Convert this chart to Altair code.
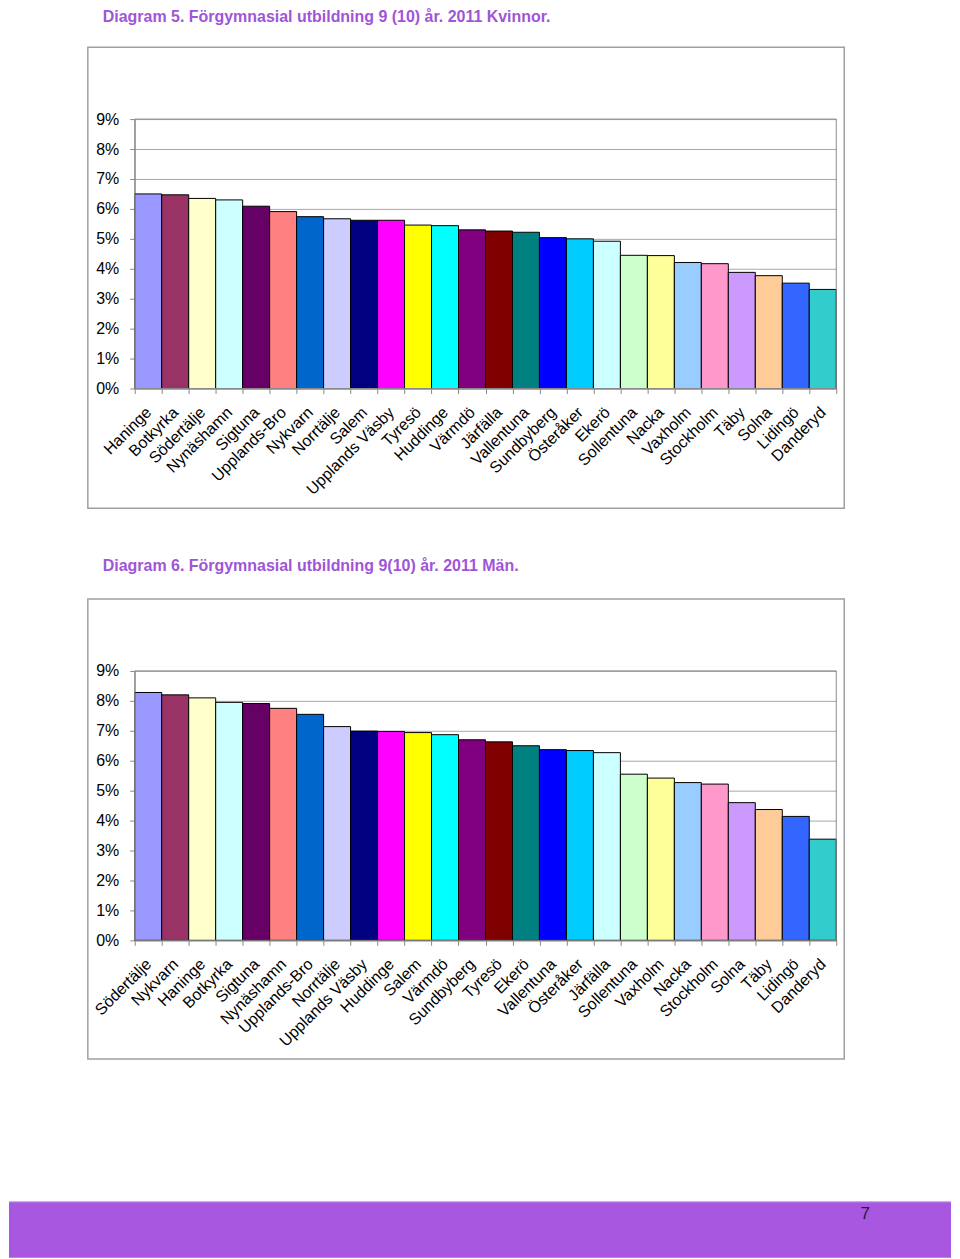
import altair as alt
import pandas as pd

# ---------------- data ----------------
cats1 = ["Haninge", "Botkyrka", "Södertälje", "Nynäshamn", "Sigtuna", "Upplands-Bro",
         "Nykvarn", "Norrtälje", "Salem", "Upplands Väsby", "Tyresö", "Huddinge",
         "Värmdö", "Järfälla", "Vallentuna", "Sundbyberg", "Österåker", "Ekerö",
         "Sollentuna", "Nacka", "Vaxholm", "Stockholm", "Täby", "Solna", "Lidingö", "Danderyd"]
vals1 = [6.50, 6.47, 6.35, 6.30, 6.09, 5.91, 5.74, 5.67, 5.62, 5.62, 5.46, 5.44,
         5.30, 5.26, 5.22, 5.04, 5.00, 4.92, 4.45, 4.44, 4.21, 4.17, 3.88, 3.77, 3.52, 3.31]

cats2 = ["Södertälje", "Nykvarn", "Haninge", "Botkyrka", "Sigtuna", "Nynäshamn",
         "Upplands-Bro", "Norrtälje", "Upplands Väsby", "Huddinge", "Salem", "Värmdö",
         "Sundbyberg", "Tyresö", "Ekerö", "Vallentuna", "Österåker", "Järfälla",
         "Sollentuna", "Vaxholm", "Nacka", "Stockholm", "Solna", "Täby", "Lidingö", "Danderyd"]
vals2 = [8.28, 8.20, 8.10, 7.95, 7.91, 7.75, 7.55, 7.14, 6.99, 6.98, 6.94, 6.87,
         6.70, 6.63, 6.50, 6.37, 6.34, 6.27, 5.55, 5.42, 5.27, 5.22, 4.60, 4.37, 4.14, 3.38]

bar_colors = ["#9999FF", "#993366", "#FFFFCC", "#CCFFFF", "#660066", "#FF8080", "#0066CC",
              "#CCCCFF", "#000080", "#FF00FF", "#FFFF00", "#00FFFF", "#800080", "#800000",
              "#008080", "#0000FF", "#00CCFF", "#CCFFFF", "#CCFFCC", "#FFFF99", "#99CCFF",
              "#FF99CC", "#CC99FF", "#FFCC99", "#3366FF", "#33CCCC"]

y_ticks = [0, 1, 2, 3, 4, 5, 6, 7, 8, 9]

title1 = "Diagram 5. Förgymnasial utbildning 9 (10) år. 2011 Kvinnor."
title2 = "Diagram 6. Förgymnasial utbildning 9(10) år. 2011 Män."
page_no = "7"

df1 = pd.DataFrame({"kommun1": cats1, "andel1": vals1, "farg": bar_colors})
df2 = pd.DataFrame({"kommun2": cats2, "andel2": vals2, "farg": bar_colors})
one = pd.DataFrame({"d": [0]})

FONT = "Liberation Sans"
PURPLE = "#9F55D8"
FOOT = "#A858E0"
W, H = 703, 270
Y2_TOP, Y2_BOT = 553, 823


def x_axis(offset=0):
    return alt.Axis(title=None, orient="bottom", offset=offset, labelAngle=-45,
                    labelAlign="right", labelBaseline="middle", labelPadding=16,
                    labelFont=FONT, labelFontSize=16, labelColor="black",
                    labelOverlap=False, labelLimit=300, tickBand="extent",
                    tickSize=5, tickColor="#888888", domainColor="#888888",
                    grid=False)


def y_axis():
    return alt.Axis(title=None, orient="left", values=y_ticks,
                    labelExpr="datum.value + '%'", labelFont=FONT, labelFontSize=16,
                    labelColor="black", labelPadding=11, tickSize=5,
                    tickColor="#888888", domainColor="#888888",
                    grid=True, gridColor="#A8A8A8", gridWidth=1)


# transparent page frame (fixes the origin of the plot)
frame = alt.Chart(one).mark_rect(fill="white", fillOpacity=0).encode(
    x=alt.value(-126), x2=alt.value(818), y=alt.value(-110), y2=alt.value(1141))

box1 = alt.Chart(one).mark_rect(fill=None, stroke="#A0A0A0", strokeWidth=1.5).encode(
    x=alt.value(-47), x2=alt.value(711), y=alt.value(-72), y2=alt.value(390))
box2 = alt.Chart(one).mark_rect(fill=None, stroke="#A0A0A0", strokeWidth=1.5).encode(
    x=alt.value(-47), x2=alt.value(711), y=alt.value(481), y2=alt.value(942))

plot1 = alt.Chart(one).mark_rect(fill=None, stroke="#8C8C8C", strokeWidth=1).encode(
    x=alt.value(0), x2=alt.value(W), y=alt.value(0), y2=alt.value(H))
plot2 = alt.Chart(one).mark_rect(fill=None, stroke="#8C8C8C", strokeWidth=1).encode(
    x=alt.value(0), x2=alt.value(W), y=alt.value(Y2_TOP), y2=alt.value(Y2_BOT))

t1 = alt.Chart(one).mark_text(align="left", baseline="top", font=FONT,
                              fontSize=16, fontWeight="bold", color=PURPLE).encode(
    x=alt.value(-32), y=alt.value(-110), text=alt.value(title1))
t2 = alt.Chart(one).mark_text(align="left", baseline="alphabetic", font=FONT,
                              fontSize=16, fontWeight="bold", color=PURPLE).encode(
    x=alt.value(-32), y=alt.value(453), text=alt.value(title2))

bars1 = alt.Chart(df1).mark_bar(stroke="black", strokeWidth=1).encode(
    x=alt.X("kommun1:N", sort=cats1,
            scale=alt.Scale(paddingInner=0, paddingOuter=0), axis=x_axis()),
    y=alt.Y("andel1:Q", scale=alt.Scale(domain=[0, 9], nice=False), axis=y_axis()),
    color=alt.Color("farg:N", scale=None),
)

bars2 = alt.Chart(df2).mark_bar(stroke="black", strokeWidth=1).encode(
    x=alt.X("kommun2:N", sort=cats2,
            scale=alt.Scale(paddingInner=0, paddingOuter=0),
            axis=x_axis(offset=Y2_BOT - H)),
    y=alt.Y("andel2:Q",
            scale=alt.Scale(domain=[0, 9], range=[Y2_BOT, Y2_TOP], nice=False),
            axis=y_axis()),
    color=alt.Color("farg:N", scale=None),
)

footer = alt.Chart(one).mark_rect(fill=FOOT).encode(
    x=alt.value(-126), x2=alt.value(818), y=alt.value(1085), y2=alt.value(1141))
footer_line = alt.Chart(one).mark_rule(color="#C89AF0", strokeWidth=1).encode(
    x=alt.value(-126), x2=alt.value(818), y=alt.value(1085))
pnum = alt.Chart(one).mark_text(align="center", baseline="middle", font=FONT,
                                fontSize=17, color="#2A1540").encode(
    x=alt.value(732), y=alt.value(1097), text=alt.value(page_no))

chart = alt.layer(
    frame, box1, box2, t1, t2, bars1, bars2, plot1, plot2, footer, footer_line, pnum
).resolve_scale(x="independent", y="independent").resolve_axis(
    x="independent", y="independent"
).properties(width=W, height=H, padding=0).configure_view(stroke=None)

chart.save("out.html", embed_options={"renderer": "svg", "actions": False})
